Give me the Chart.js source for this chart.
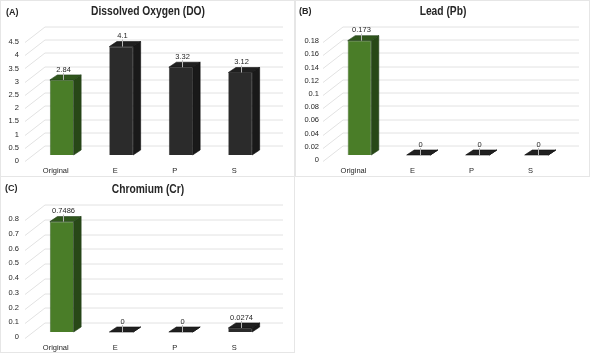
<!DOCTYPE html>
<html>
<head>
<meta charset="utf-8">
<script src="https://cdn.jsdelivr.net/npm/chart.js@4"></script>
<style>
  body{margin:0;background:#fff;width:591px;height:354px;position:relative;overflow:hidden;
       font-family:'Liberation Sans',Arial,sans-serif;color:#262626}
  .box{position:absolute;border:1px solid #e6e6e6;box-sizing:border-box}
  .cv{position:absolute}
  .title{position:absolute;font-weight:bold;font-size:12.5px;transform:translateX(-50%) scaleX(0.82);white-space:nowrap}
  .tag{position:absolute;font-weight:bold;font-size:9px}
</style>
</head>
<body>
<div class="box" style="left:0;top:0;width:295px;height:177px"></div>
<div class="box" style="left:295px;top:0;width:295px;height:177px"></div>
<div class="box" style="left:0;top:176px;width:295px;height:177px"></div>

<div class="cv" style="left:0;top:0;width:294px;height:176px"><canvas id="a"></canvas></div>
<div class="cv" style="left:296px;top:0;width:293px;height:176px"><canvas id="b"></canvas></div>
<div class="cv" style="left:0;top:177px;width:294px;height:176px"><canvas id="c"></canvas></div>

<div class="tag" style="left:6px;top:7px">(A)</div>
<div class="title" style="left:148px;top:4px">Dissolved Oxygen (DO)</div>
<div class="tag" style="left:299px;top:6px">(B)</div>
<div class="title" style="left:443px;top:4px">Lead (Pb)</div>
<div class="tag" style="left:5px;top:183px">(C)</div>
<div class="title" style="left:148px;top:182px">Chromium (Cr)</div>

<script>
// data
const categories = ["Original", "E", "P", "S"];
const doValues = [2.84, 4.1, 3.32, 3.12];
const pbValues = [0.173, 0, 0, 0];
const crValues = [0.7486, 0, 0, 0.0274];
const doAxis = {max: 4.5, step: 0.5};
const pbAxis = {max: 0.18, step: 0.02};
const crAxis = {max: 0.8, step: 0.1};

// look
const front = ["#4a7d28", "#2b2b2b", "#2b2b2b", "#2b2b2b"];
const side  = ["#284817", "#191919", "#191919", "#191919"];
const top_  = ["#30561c", "#202020", "#202020", "#202020"];
const edge  = ["#22401a", "#0d0d0d", "#0d0d0d", "#0d0d0d"];
const FONT = "'Liberation Sans',Arial,sans-serif";
const D = {dx: 7.5, dy: 5};          // bar depth
const W = {bx: 13, by: 9.5, fx: -7, fy: 6}; // wall / floor depth

const fmt = v => String(Math.round(v * 10000) / 10000);

const box3d = {
  id: "box3d",
  beforeDatasetsDraw(chart){
    let c = chart.ctx, a = chart.chartArea, y = chart.scales.y;
    c.save();
    c.strokeStyle = "#e2e2e2";
    c.lineWidth = 1;
    y.ticks.forEach(t=>{
      let py = Math.round(y.getPixelForValue(t.value)) + 0.5;
      c.beginPath();
      c.moveTo(a.left + W.fx, py + W.fy);
      c.lineTo(a.left + W.bx, py - W.by);
      c.lineTo(a.right + W.bx, py - W.by);
      c.stroke();
    });
    c.restore();
  },
  afterDatasetsDraw(chart){
    let c = chart.ctx;
    let meta = chart.getDatasetMeta(0);
    let vals = chart.data.datasets[0].data;
    c.save();
    meta.data.forEach((b,i)=>{
      let l = b.x - b.width/2, r = b.x + b.width/2, t = b.y, base = b.base;
      c.lineWidth = 0.6;
      c.strokeStyle = edge[i];
      // side
      c.fillStyle = side[i];
      c.beginPath();
      c.moveTo(r, t); c.lineTo(r + D.dx, t - D.dy);
      c.lineTo(r + D.dx, base - D.dy); c.lineTo(r, base);
      c.closePath(); c.fill(); c.stroke();
      // top
      c.fillStyle = top_[i];
      c.beginPath();
      c.moveTo(l, t); c.lineTo(l + D.dx, t - D.dy);
      c.lineTo(r + D.dx, t - D.dy); c.lineTo(r, t);
      c.closePath(); c.fill(); c.stroke();
      // label + leader
      let lx = Math.round(b.x + 1) + 0.5;
      c.strokeStyle = "#b8b8b8";
      c.lineWidth = 1;
      c.beginPath();
      c.moveTo(lx, t - D.dy - 2); c.lineTo(lx, t);
      c.stroke();
      c.fillStyle = "#262626";
      c.font = "7.5px " + FONT;
      c.textAlign = "center";
      c.textBaseline = "bottom";
      c.fillText(String(vals[i]), lx, t - D.dy - 1.5);
    });
    c.restore();
  }
};

function make(id, values, ax, opt){
  return new Chart(document.getElementById(id), {
    type: "bar",
    data: {
      labels: categories,
      datasets: [{data: values, backgroundColor: front, borderColor: edge, borderWidth: 0.6,
                   barPercentage: 0.4, categoryPercentage: 1}]
    },
    options: {
      responsive: true, maintainAspectRatio: false, animation: false,
      layout: {padding: {top: opt.top, right: opt.right, left: 0, bottom: 0}},
      plugins: {legend: {display: false}, tooltip: {enabled: false}},
      scales: {
        x: {
          grid: {display: false, drawTicks: false}, border: {display: false},
          ticks: {font: {family: FONT, size: 7.5}, color: "#262626", padding: 11,
                  labelOffset: -6, maxRotation: 0, autoSkip: false},
          afterFit: s=>{ s.height = 21; }
        },
        y: {
          min: 0, max: ax.max,
          grid: {display: false, drawTicks: false}, border: {display: false},
          ticks: {stepSize: ax.step, font: {family: FONT, size: 7.5}, color: "#262626",
                  padding: opt.pad, labelOffset: opt.off, callback: fmt},
          afterFit: s=>{ s.width = opt.w; }
        }
      }
    },
    plugins: [box3d]
  });
}

make("a", doValues, doAxis, {top: 36, right: 24, w: 32, pad: 13, off: 6});
make("b", pbValues, pbAxis, {top: 36, right: 23, w: 34, pad: 11, off: 5});
make("c", crValues, crAxis, {top: 37, right: 24, w: 32, pad: 13, off: 5});
</script>
</body>
</html>
